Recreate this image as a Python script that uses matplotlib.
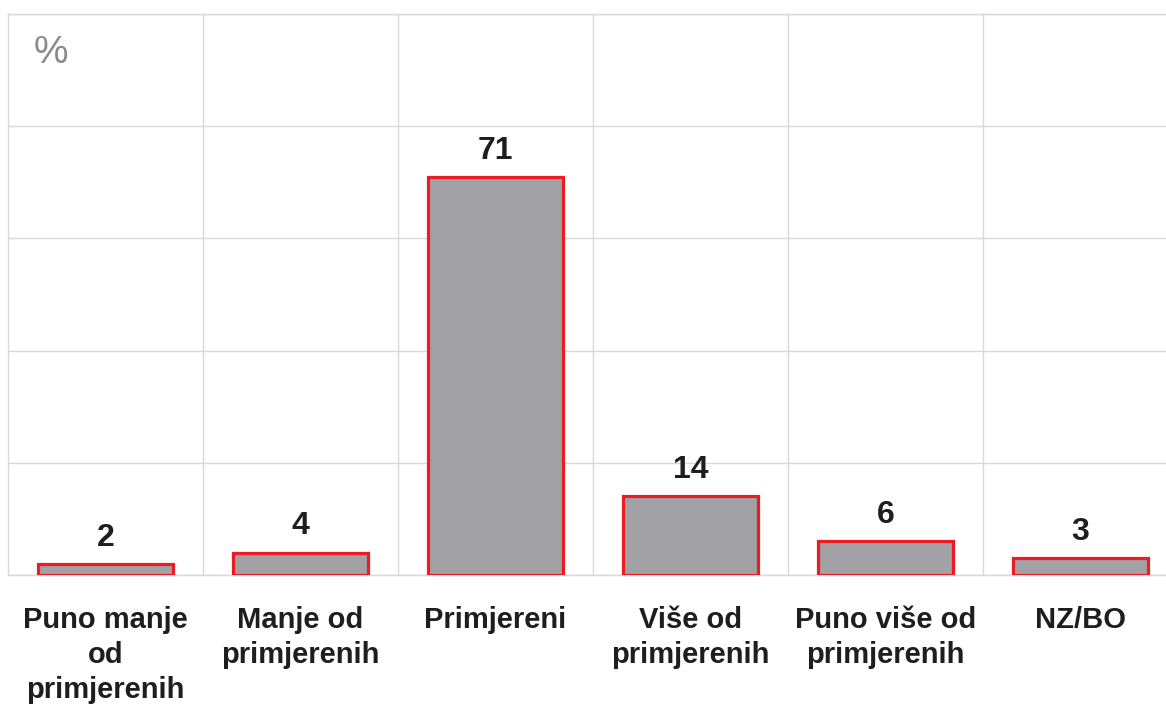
import matplotlib
matplotlib.use("Agg")
import matplotlib.pyplot as plt

plt.rcParams['font.family'] = ['Liberation Sans', 'DejaVu Sans']

categories = ["Puno manje\nod\nprimjerenih", "Manje od\nprimjerenih", "Primjereni",
              "Više od\nprimjerenih", "Puno više od\nprimjerenih", "NZ/BO"]
values = [2, 4, 71, 14, 6, 3]
y_ticks = [0, 20, 40, 60, 80, 100]

fig = plt.figure(figsize=(11.66, 7.05), dpi=100)
# axes runs a little past the right edge, as in the original crop
ax = fig.add_axes([8 / 1166, 130 / 705, 1170 / 1166, 561 / 705])

x = range(len(categories))
bars = ax.bar(x, values, width=0.69, color='#a2a1a6', edgecolor='#ed1c24',
              linewidth=2.3, zorder=3)

for b, v in zip(bars, values):
    ax.annotate(str(v), (b.get_x() + b.get_width() / 2, b.get_height()),
                xytext=(0, 8), textcoords='offset points', ha='center', va='bottom',
                fontsize=23, fontweight='bold', color='#1e1e20')

ax.set_xlim(-0.5, len(categories) - 0.5)
ax.set_ylim(0, 100)
ax.set_yticks(y_ticks)
ax.set_yticklabels([])
ax.set_xticks([i + 0.5 for i in range(len(categories) - 1)], minor=False)
ax.set_xticklabels([])
ax.set_xticks(list(x), minor=True)
ax.set_xticklabels(categories, minor=True, fontsize=21, fontweight='bold',
                   color='#1e1e20', linespacing=1.33)
ax.tick_params(axis='x', which='both', length=0)
ax.tick_params(axis='x', which='minor', pad=22)
ax.tick_params(axis='y', length=0)
ax.grid(True, which='major', color='#d9d9d9', linewidth=1, zorder=0)

for s in ['left', 'top', 'bottom']:
    ax.spines[s].set_color('#d9d9d9')
    ax.spines[s].set_linewidth(1)
ax.spines['right'].set_visible(False)

ax.text(0.022, 0.962, '%', transform=ax.transAxes, fontsize=28, color='#8a8a8a',
        ha='left', va='top')

fig.savefig('out.png', dpi=100)
